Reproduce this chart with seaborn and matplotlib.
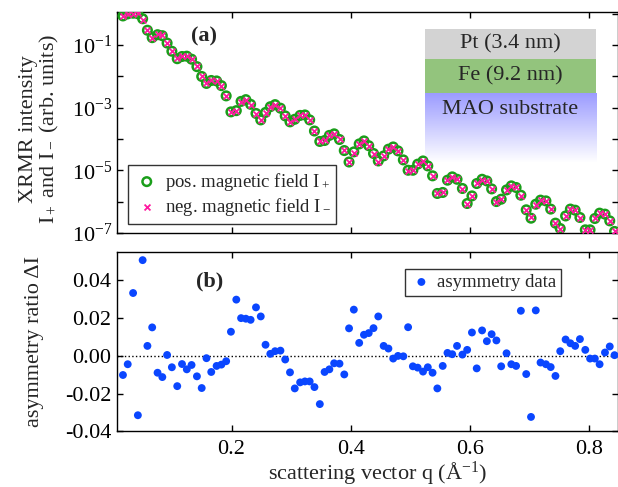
"""
XRMR reflectivity for Pt/Fe/MAO: intensities for both field directions (a)
and the resulting asymmetry ratio (b).
"""

import numpy as np
import matplotlib
matplotlib.use("Agg")
import matplotlib.pyplot as plt
import seaborn as sns
from matplotlib.patches import Rectangle
from matplotlib.colors import LinearSegmentedColormap
from matplotlib.ticker import FixedLocator, FuncFormatter

# scattering vector q (1/Angstrom)
q = [0.018, 0.026, 0.035, 0.043, 0.051, 0.059, 0.067, 0.076, 0.084, 0.092,
     0.100, 0.109, 0.117, 0.125, 0.133, 0.142, 0.150, 0.158, 0.166, 0.175,
     0.183, 0.191, 0.199, 0.208, 0.216, 0.224, 0.232, 0.241, 0.249, 0.257,
     0.265, 0.273, 0.282, 0.290, 0.298, 0.306, 0.315, 0.323, 0.331, 0.339,
     0.348, 0.356, 0.364, 0.372, 0.381, 0.389, 0.397, 0.405, 0.414, 0.422,
     0.430, 0.438, 0.446, 0.455, 0.463, 0.471, 0.479, 0.488, 0.496, 0.504,
     0.512, 0.521, 0.529, 0.537, 0.545, 0.554, 0.562, 0.570, 0.578, 0.587,
     0.595, 0.603, 0.611, 0.620, 0.628, 0.636, 0.644, 0.652, 0.661, 0.669,
     0.677, 0.685, 0.694, 0.702, 0.710, 0.718, 0.727, 0.735, 0.743, 0.751,
     0.760, 0.768, 0.776, 0.784, 0.793, 0.801, 0.809, 0.817, 0.826, 0.834,
     0.842]

# intensity for positive field I+ (arb. units)
i_pos = [8.6e-1, 1.0e0, 1.05e0, 1.01e0, 7.0e-1, 3.0e-1, 1.74e-1, 2.16e-1, 2.01e-1, 1.17e-1,
         6.4e-2, 3.7e-2, 4.35e-2, 4.45e-2, 3.57e-2, 2.06e-2, 1.0e-2, 6.0e-3, 7.45e-3, 7.2e-3,
         5.1e-3, 2.4e-3, 7.4e-4, 8.1e-4, 1.6e-3, 1.82e-3, 1.29e-3, 6.6e-4, 4.1e-4, 7.1e-4,
         1.08e-3, 1.26e-3, 9.7e-4, 5.5e-4, 3.55e-4, 4.3e-4, 5.7e-4, 5.9e-4, 4.1e-4, 1.81e-4,
         8.4e-5, 9.0e-5, 1.31e-4, 1.47e-4, 9.7e-5, 4.3e-5, 1.85e-5, 3.9e-5, 7.0e-5, 8.75e-5,
         6.15e-5, 3.47e-5, 2.0e-5, 2.9e-5, 4.75e-5, 5.6e-5, 4.2e-5, 2.16e-5, 1.01e-5, 1.01e-5,
         1.58e-5, 2.0e-5, 1.39e-5, 6.7e-6, 1.83e-6, 1.97e-6, 4.86e-6, 6.2e-6, 5.2e-6, 2.64e-6,
         8.75e-7, 1.53e-6, 3.8e-6, 5.2e-6, 4.6e-6, 2.56e-6, 1.01e-6, 1.2e-6, 2.38e-6, 3.2e-6,
         2.84e-6, 1.61e-6, 5.5e-7, 2.97e-7, 8.3e-7, 1.12e-6, 1.06e-6, 5.8e-7, 2.06e-7, 1.39e-7,
         3.5e-7, 5.8e-7, 5.35e-7, 3.13e-7, 1.26e-7, 1.26e-7, 2.9e-7, 4.3e-7, 4.0e-7, 2.44e-7,
         1.12e-7]

# asymmetry ratio dI = (I+ - I-) / (I+ + I-)
asym = [-0.0101, -0.0044, 0.0333, -0.0314, 0.0507, 0.0053, 0.0151, -0.0089, -0.0112, 0.0005,
        -0.0060, -0.0160, -0.0043, -0.0071, -0.0048, -0.0108, -0.0170, -0.0012, -0.0085, -0.0053,
        -0.0046, -0.0028, 0.0128, 0.0298, 0.0200, 0.0197, 0.0191, 0.0257, 0.0209, 0.0059,
        0.0011, 0.0025, 0.0028, -0.0019, -0.0087, -0.0172, -0.0140, -0.0135, -0.0135, -0.0165,
        -0.0255, -0.0085, -0.0071, -0.0039, -0.0041, -0.0098, 0.0146, 0.0245, 0.0069, 0.0112,
        0.0121, 0.0147, 0.0209, 0.0053, 0.0039, -0.0014, 0.0000, -0.0002, 0.0152, -0.0055,
        -0.0062, -0.0083, -0.0060, -0.0089, -0.0172, -0.0053, 0.0016, 0.0009, 0.0053, 0.0007,
        0.0032, 0.0124, -0.0066, 0.0135, 0.0078, 0.0115, 0.0082, -0.0055, 0.0014, -0.0044,
        -0.0053, 0.0239, -0.0096, -0.0323, 0.0241, -0.0035, -0.0044, -0.0059, -0.0106, 0.0025,
        0.0087, 0.0067, 0.0053, 0.0089, 0.0032, -0.0014, -0.0014, -0.0044, 0.0018, 0.0050,
        0.0004]

# I- follows from I+ and the asymmetry ratio
i_neg = np.array(i_pos) * (1 - np.array(asym)) / (1 + np.array(asym))

x_ticks = [0.2, 0.4, 0.6, 0.8]
decades = [-7, -6, -5, -4, -3, -2, -1, 0]
y2_ticks = [-0.04, -0.02, 0.00, 0.02, 0.04]

layers = ["Pt (3.4 nm)", "Fe (9.2 nm)", "MAO substrate"]

GREEN = "#1a9e1a"
MAGENTA = "#ff1aa0"
BLUE = "#0a46ff"

# Styling
sns.set_theme(style="ticks")
plt.rcParams.update({
    "font.family": ["Liberation Serif", "DejaVu Serif"],
    "mathtext.fontset": "custom",
    "mathtext.rm": "Liberation Serif",
    "mathtext.it": "Liberation Serif:italic",
    "mathtext.bf": "Liberation Serif:bold",
    "axes.unicode_minus": False,
    "font.size": 16,
    "axes.linewidth": 1.0,
    "axes.edgecolor": "black",
    "xtick.direction": "in",
    "ytick.direction": "in",
    "xtick.major.size": 4,
    "ytick.major.size": 4,
    "xtick.major.width": 1.0,
    "ytick.major.width": 1.0,
    "xtick.top": True,
    "ytick.right": True,
    "xtick.color": "black",
    "ytick.color": "black",
})

fig = plt.figure(figsize=(6.18, 4.87), dpi=100)
ax1 = fig.add_axes([0.1893, 0.5216, 0.8099, 0.4538])
ax2 = fig.add_axes([0.1893, 0.1140, 0.8099, 0.3685])

# ---- (a) reflectivity
sns.scatterplot(x=q, y=i_pos, ax=ax1, marker="o", s=38, facecolor="none",
                edgecolor=GREEN, linewidth=1.8, label="pos. magnetic field I$_+$", zorder=3)
sns.scatterplot(x=q, y=i_neg, ax=ax1, marker="x", s=18, color=MAGENTA,
                linewidth=1.3, label="neg. magnetic field I$_-$", zorder=4)
ax1.set_yscale("log")
ax1.yaxis.set_major_locator(FixedLocator([10.0 ** d for d in decades]))
ax1.yaxis.set_minor_locator(FixedLocator([]))
ax1.yaxis.set_major_formatter(FuncFormatter(
    lambda v, pos: f"$10^{{{int(round(np.log10(v)))}}}$" if int(round(np.log10(v))) % 2 else ""))
ax1.set_xticks(x_ticks)
ax1.set_xticklabels([])
ax1.set_xlabel("")
ax1.set_ylabel("XRMR intensity\nI$_+$ and I$_-$ (arb. units)", fontsize=16, linespacing=1.0)
ax1.yaxis.set_label_coords(-0.112, 0.47)
ax1.tick_params(labelsize=16)

leg1 = ax1.legend(loc="lower left", bbox_to_anchor=(0.022, 0.041), borderaxespad=0,
                  fontsize=13.5, frameon=True, fancybox=False, edgecolor="black",
                  handletextpad=0.25, borderpad=0.3, labelspacing=0.2, handlelength=1.4)
leg1.get_frame().set_linewidth(1.0)

ax1.text(0.174, 0.887, "(a)", transform=ax1.transAxes, fontsize=16,
         fontweight="bold", ha="center", va="center")

# layer sketch
x0, w = 0.615, 0.342
ax1.add_patch(Rectangle((x0, 0.787), w, 0.136, transform=ax1.transAxes,
                        facecolor="#d3d3d3", edgecolor="none", zorder=2))
ax1.add_patch(Rectangle((x0, 0.633), w, 0.154, transform=ax1.transAxes,
                        facecolor="#93c47d", edgecolor="none", zorder=2))
grad_cmap = LinearSegmentedColormap.from_list("mao", ["#ffffff", "#9c9cff"])
ax1.imshow(np.linspace(0, 1, 64).reshape(-1, 1), cmap=grad_cmap, aspect="auto",
           origin="lower", extent=[x0, x0 + w, 0.317, 0.633],
           transform=ax1.transAxes, zorder=2)
for label, yc in zip(layers, [0.855, 0.71, 0.557]):
    ax1.text(x0 + w / 2, yc, label, transform=ax1.transAxes, fontsize=16,
             ha="center", va="center", zorder=3)
ax1.set_xlim(0.008, 0.847)
ax1.set_ylim(1e-7, 1.15)

# ---- (b) asymmetry
ax2.axhline(0, color="black", linestyle=":", linewidth=1.0, zorder=1)
sns.scatterplot(x=q, y=asym, ax=ax2, marker="o", s=32, color=BLUE,
                edgecolor="none", label="asymmetry data", zorder=3)
ax2.set_xlim(0.008, 0.847)
ax2.set_ylim(-0.04, 0.055)
ax2.set_xticks(x_ticks)
ax2.set_xticklabels([f"{t:.1f}" for t in x_ticks])
ax2.set_yticks(y2_ticks)
ax2.set_yticklabels([f"{t:.2f}" for t in y2_ticks])
ax2.tick_params(axis="x", labelsize=16, pad=6)
ax2.tick_params(axis="y", labelsize=16, pad=4)
ax2.set_xlabel("scattering vector q (Å$^{-1}$)", fontsize=16)
ax2.xaxis.set_label_coords(0.52, -0.155)
ax2.set_ylabel("asymmetry ratio ΔI", fontsize=16)
ax2.yaxis.set_label_coords(-0.145, 0.5)

leg2 = ax2.legend(loc="upper center", bbox_to_anchor=(0.732, 0.905), borderaxespad=0,
                  fontsize=13.5, frameon=True, fancybox=False, edgecolor="black",
                  handletextpad=0.25, borderpad=0.25, handlelength=1.2)
leg2.get_frame().set_linewidth(1.0)

ax2.text(0.186, 0.838, "(b)", transform=ax2.transAxes, fontsize=16,
         fontweight="bold", ha="center", va="center")

for ax in (ax1, ax2):
    for side in ax.spines.values():
        side.set_visible(True)
        side.set_color("black")

fig.savefig("out.png", dpi=100)
plt.close(fig)
